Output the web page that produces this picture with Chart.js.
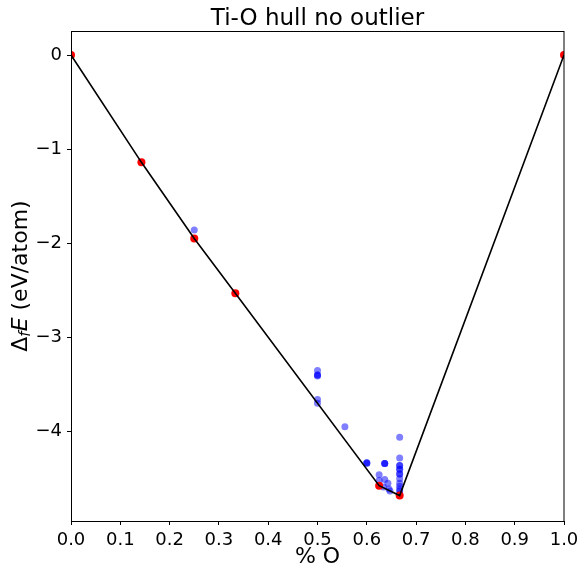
<!DOCTYPE html>
<html>
<head>
<meta charset="utf-8">
<script src="https://cdn.jsdelivr.net/npm/chart.js@4/dist/chart.umd.min.js"></script>
<style>
  html, body { margin: 0; padding: 0; background: #fff; }
  #wrap { width: 582px; height: 569px; position: relative; }
</style>
</head>
<body>
<div id="wrap"><canvas id="c" width="582" height="569"></canvas></div>
<script>
// ---- data ----
const chartTitle = 'Ti-O hull no outlier';
const xAxisTitle = '% O';
const yAxisTitle = 'ΔfE (eV/atom)';

// convex hull vertices (fraction O, formation energy eV/atom)
const hullX = [0, 1/7, 0.25, 1/3, 0.625, 2/3, 1];
const hullY = [0, -1.14, -1.95, -2.53, -4.575, -4.68, 0];

// computed structures above hull
const otherX = [0.25, 0.5, 0.5, 0.5, 0.5, 0.5, 0.5, 5/9,
  0.6, 0.6, 0.6, 7/11, 7/11, 7/11, 0.625, 0.625, 7/11, 9/14, 0.634, 0.645, 0.647,
  2/3, 2/3, 2/3, 2/3, 2/3, 2/3, 2/3, 2/3, 2/3, 2/3, 2/3, 2/3, 2/3, 2/3];
const otherY = [-1.86, -3.35, -3.40, -3.40, -3.41, -3.66, -3.70, -3.95,
  -4.33, -4.33, -4.34, -4.34, -4.34, -4.34, -4.46, -4.52, -4.51, -4.55, -4.59, -4.61, -4.63,
  -4.06, -4.28, -4.36, -4.36, -4.40, -4.40, -4.45, -4.45, -4.50, -4.55, -4.58, -4.61, -4.63, -4.66];

const xTicks = [0, 0.1, 0.2, 0.3, 0.4, 0.5, 0.6, 0.7, 0.8, 0.9, 1.0];
const yTicks = [0, -1, -2, -3, -4];
const xRange = [0, 1];
const yRange = [-4.95, 0.255];

const hullPts = hullX.map((x, i) => ({x, y: hullY[i]}));
const otherPts = otherX.map((x, i) => ({x, y: otherY[i]}));

const FONT = "'DejaVu Sans', sans-serif";

const framePlugin = {
  id: 'frame',
  afterLayout(chart) {
    const a = chart.chartArea;
    if (chart.titleBlock) { chart.titleBlock.left = a.left; chart.titleBlock.right = a.right; }
  },
  afterDraw(chart) {
    const {ctx, chartArea: a} = chart;
    ctx.save();
    ctx.strokeStyle = '#000';
    ctx.lineWidth = 1;
    ctx.strokeRect(Math.round(a.left) + 0.5, Math.round(a.top) + 0.5,
                   Math.round(a.right - a.left) - 1 + 0.5, Math.round(a.bottom - a.top));
    // y axis title with subscript
    const cy = (a.top + a.bottom) / 2;
    const cx = 21;
    const big = "22px " + FONT, ital = "italic 22px " + FONT, sub = "italic 15px " + FONT;
    const parts = [
      {t: 'Δ', f: big, dy: 0},
      {t: 'f', f: sub, dy: 5},
      {t: 'E', f: ital, dy: 0},
      {t: ' (eV/atom)', f: big, dy: 0}
    ];
    let total = 0;
    parts.forEach(p => { ctx.font = p.f; p.w = ctx.measureText(p.t).width; total += p.w; });
    ctx.translate(cx, cy);
    ctx.rotate(-Math.PI / 2);
    ctx.fillStyle = '#000';
    ctx.textBaseline = 'middle';
    ctx.textAlign = 'left';
    let x = -total / 2;
    parts.forEach(p => { ctx.font = p.f; ctx.fillText(p.t, x, p.dy); x += p.w; });
    ctx.restore();
  }
};

new Chart(document.getElementById('c'), {
  type: 'scatter',
  data: {
    datasets: [
      {
        type: 'line',
        label: 'hull',
        data: hullPts,
        borderColor: '#000',
        borderWidth: 1.6,
        pointRadius: 0,
        fill: false,
        tension: 0,
        clip: 0,
        order: 1
      },
      {
        label: 'stable',
        data: hullPts,
        backgroundColor: 'rgb(255,0,0)',
        borderWidth: 0,
        pointRadius: 4,
        clip: 0,
        order: 2
      },
      {
        label: 'unstable',
        data: otherPts,
        backgroundColor: 'rgba(0,0,255,0.5)',
        borderWidth: 0,
        pointRadius: 3.5,
        clip: 0,
        order: 3
      }
    ]
  },
  options: {
    responsive: false,
    animation: false,
    events: [],
    layout: { padding: { left: 0, right: 18, top: 0, bottom: 0 } },
    plugins: {
      legend: { display: false },
      tooltip: { enabled: false },
      title: {
        display: true,
        text: chartTitle,
        color: '#000',
        font: { family: FONT, size: 23, weight: 'normal', lineHeight: 1 },
        padding: { top: 8, bottom: 0 }
      }
    },
    scales: {
      x: {
        type: 'linear',
        min: xRange[0], max: xRange[1],
        afterBuildTicks: s => { s.ticks = xTicks.map(v => ({value: v})); },
        afterFit: s => { s.height = 48; s.paddingLeft = 0; s.paddingRight = 0; },
        grid: { display: true, drawOnChartArea: false, drawTicks: true, tickLength: 4, color: '#000', lineWidth: 1 },
        border: { display: true, color: '#000', width: 1 },
        ticks: {
          color: '#000', padding: 6, maxRotation: 0, autoSkip: false,
          font: { family: FONT, size: 18, lineHeight: 1 },
          callback: v => Number(v).toFixed(1)
        },
        title: {
          display: true, text: xAxisTitle, color: '#000',
          font: { family: FONT, size: 22, lineHeight: 1 },
          padding: { top: 0, bottom: 1 }
        }
      },
      y: {
        type: 'linear',
        min: yRange[0], max: yRange[1],
        afterBuildTicks: s => { s.ticks = yTicks.map(v => ({value: v})); },
        afterFit: s => { s.width = 71; s.paddingTop = 0; s.paddingBottom = 0; },
        grid: { display: true, drawOnChartArea: false, drawTicks: true, tickLength: 4, color: '#000', lineWidth: 1 },
        border: { display: true, color: '#000', width: 1 },
        ticks: {
          color: '#000', padding: 5, autoSkip: false,
          font: { family: FONT, size: 18, lineHeight: 1 },
          callback: v => (v < 0 ? '\u2212' + Math.abs(v) : String(v))
        },
        title: { display: false, text: yAxisTitle }
      }
    }
  },
  plugins: [framePlugin]
});
</script>
</body>
</html>
